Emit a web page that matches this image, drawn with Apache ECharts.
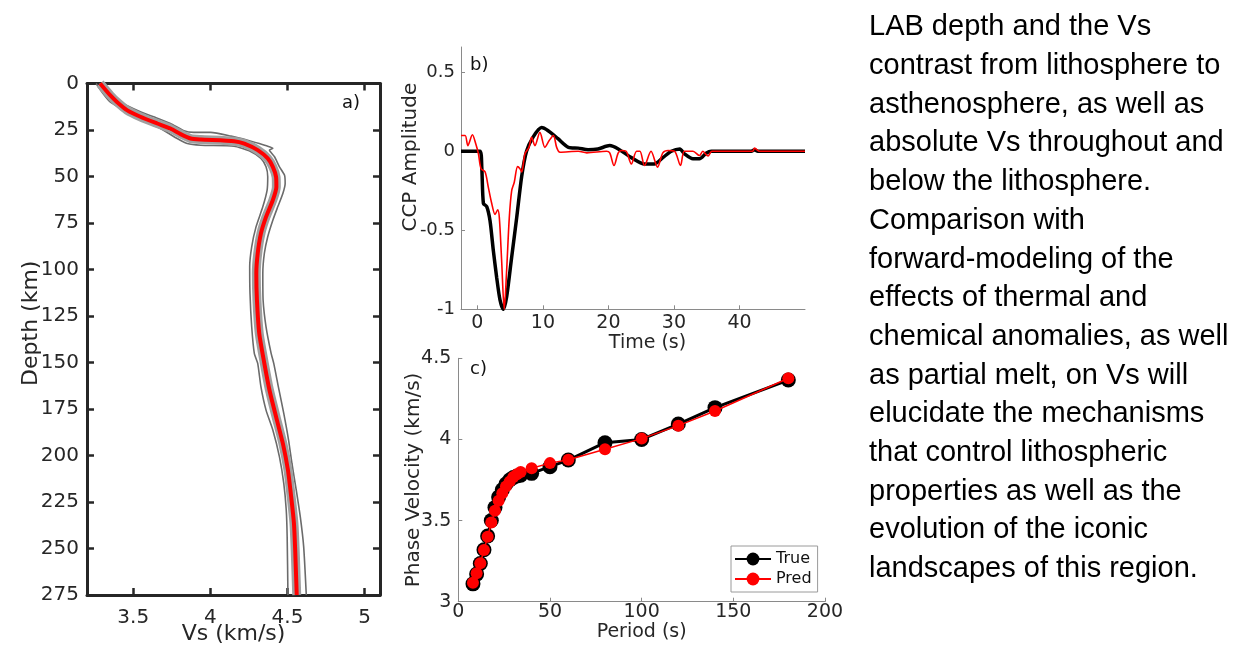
<!DOCTYPE html>
<html><head><meta charset="utf-8">
<script src="https://cdn.jsdelivr.net/npm/echarts@6/dist/echarts.min.js"></script>
<style>html,body{margin:0;padding:0;background:#fff;overflow:hidden}#c{width:1242px;height:646px}</style>
</head><body><div id="c"></div>
<script>
// ---------- Panel a: Vs profile ----------
const redDepth = [0, 6.3, 9.9, 14.3, 17.9, 21.5, 24.2, 27.2, 29.6, 30.1, 31.0, 32.3, 35.8, 40.3, 44.8, 50.2, 55.6, 62.7, 71.7, 80.6, 91.4, 102.1, 116.5, 134.4, 150.5, 164.8, 179.2, 193.5, 207.8, 222.2, 236.5, 250.8, 275];
const redVs    = [3.285, 3.350, 3.394, 3.459, 3.546, 3.655, 3.741, 3.807, 3.872, 3.937, 4.154, 4.220, 4.307, 4.372, 4.405, 4.426, 4.428, 4.405, 4.361, 4.328, 4.307, 4.298, 4.302, 4.317, 4.350, 4.383, 4.426, 4.470, 4.503, 4.524, 4.542, 4.550, 4.560];
const lowDepth = [0, 4.5, 9.9, 14.3, 19.4, 24.2, 29.6, 32.3, 33.2, 33.7, 36.2, 40.3, 44.8, 50.2, 57.3, 66.3, 77.1, 87.8, 98.6, 112.9, 130.8, 145.1, 150.5, 163.1, 175.6, 186.3, 200.7, 215, 229.3, 243.7, 275];
const lowVs    = [3.259, 3.296, 3.350, 3.437, 3.546, 3.676, 3.785, 3.850, 3.937, 4.154, 4.252, 4.328, 4.361, 4.372, 4.368, 4.340, 4.296, 4.268, 4.255, 4.257, 4.268, 4.285, 4.307, 4.328, 4.361, 4.405, 4.448, 4.476, 4.492, 4.498, 4.503];
const highDepth = [0, 4.5, 9.9, 15.2, 17.9, 21.5, 25.4, 26.3, 26.3, 28.3, 30.5, 32.3, 33.7, 34.8, 35.8, 39.4, 44.8, 49.3, 53.7, 59.1, 66.3, 73.5, 82.4, 91.4, 102.1, 116.5, 130.8, 145.1, 150.5, 163.1, 177.4, 191.7, 204.3, 218.6, 232.9, 249, 275];
const highVs    = [3.280, 3.328, 3.415, 3.546, 3.632, 3.741, 3.828, 3.893, 4.002, 4.133, 4.242, 4.317, 4.372, 4.405, 4.383, 4.416, 4.448, 4.481, 4.485, 4.470, 4.437, 4.405, 4.372, 4.350, 4.340, 4.342, 4.361, 4.394, 4.411, 4.441, 4.476, 4.507, 4.529, 4.557, 4.583, 4.605, 4.622];
const vsTicks = [3.5, 4, 4.5, 5];

// ---------- Panel b: CCP waveforms ----------
const trueTime = [-2.5, 0.4, 0.67, 0.92, 1.43, 1.93, 2.44, 2.95, 3.45, 3.96, 4.47, 5.23, 6.0, 6.76, 7.5, 8.5, 9.8, 10.8, 12.3, 13.9, 15.4, 16.9, 18.4, 20.2, 21.5, 23.5, 25.5, 27.0, 28.3, 29.6, 30.9, 31.6, 32.9, 33.9, 34.9, 35.7, 41.8, 42.3, 42.8, 50];
const trueAmp  = [0, 0, -0.10, -0.33, -0.35, -0.44, -0.63, -0.80, -0.94, -1.0, -0.92, -0.67, -0.42, -0.16, 0.0, 0.09, 0.15, 0.13, 0.08, 0.025, 0.02, 0.01, 0.015, 0.036, 0.015, -0.04, -0.08, -0.08, -0.04, 0.0, 0.015, -0.016, -0.048, -0.048, -0.013, 0, 0, 0.01, 0, 0];
const predTime = [-2.5, -1.87, -1.46, -0.76, -0.25, 0.16, 0.56, 1.17, 1.68, 2.19, 2.7, 3.1, 3.35, 3.7, 4.1, 4.47, 4.87, 5.23, 5.63, 6.14, 6.5, 6.76, 7.26, 7.87, 8.28, 8.78, 9.54, 10.3, 10.96, 11.6, 12.1, 12.6, 15.4, 16.7, 19.7, 20.2, 20.85, 21.5, 22.0, 22.7, 23.5, 24.3, 24.8, 25.5, 26.5, 27.5, 28.3, 29.1, 30.1, 31.0, 31.6, 32.9, 33.9, 34.4, 35.2, 35.8, 42, 42.3, 43.1, 50];
const predAmp  = [0.10, 0.10, 0.036, 0.105, 0.047, -0.016, -0.11, -0.13, -0.23, -0.33, -0.40, -0.37, -0.42, -0.69, -1.0, -0.75, -0.42, -0.25, -0.196, -0.097, -0.11, -0.13, -0.016, 0.025, 0.088, 0.036, 0.12, 0.025, 0.068, 0.10, 0.025, -0.006, 0, -0.01, 0, -0.01, -0.09, -0.01, 0.005, 0, -0.08, 0, 0, -0.09, 0, -0.10, -0.01, 0.005, 0, -0.09, 0, 0, -0.027, 0, -0.03, 0, 0, 0.02, 0, 0];
const timeTicks = [0, 10, 20, 30, 40];
const ampTicks = [-1, -0.5, 0, 0.5];

// ---------- Panel c: dispersion ----------
const periods  = [8, 10, 12, 14, 16, 18, 20, 22, 24, 26, 28, 30, 32, 34, 40, 50, 60, 80, 100, 120, 140, 180];
const trueVel  = [3.11, 3.17, 3.235, 3.32, 3.405, 3.50, 3.58, 3.645, 3.69, 3.725, 3.75, 3.765, 3.775, 3.78, 3.791, 3.832, 3.873, 3.98, 4.0, 4.095, 4.196, 4.366];
const predVel  = [3.117, 3.175, 3.237, 3.319, 3.40, 3.488, 3.56, 3.622, 3.669, 3.71, 3.74, 3.768, 3.786, 3.799, 3.823, 3.854, 3.875, 3.939, 4.005, 4.085, 4.175, 4.377];

// ---------- Side text ----------
const textLines = [
  'LAB depth and the Vs',
  'contrast from lithosphere to',
  'asthenosphere, as well as',
  'absolute Vs throughout and',
  'below the lithosphere.',
  'Comparison with',
  'forward-modeling of the',
  'effects of thermal and',
  'chemical anomalies, as well',
  'as partial melt, on Vs will',
  'elucidate the mechanisms',
  'that control lithospheric',
  'properties as well as the',
  'evolution of the iconic',
  'landscapes of this region.'
];

const zip = (a, b) => a.map((v, i) => [v, b[i]]);
const FF = 'DejaVu Sans';
const dark = '#262626';
const grayAx = '#8a8a8a';

const chart = echarts.init(document.getElementById('c'), null, {renderer: 'canvas'});
const thickA = {show: true, onZero: false, lineStyle: {color: dark, width: 3}};
const tickA = {show: true, inside: true, length: 7, lineStyle: {color: dark, width: 2.5}};
const thinAxis = {show: true, onZero: false, lineStyle: {color: grayAx, width: 1}};
const thinTick = {show: true, inside: true, length: 4, lineStyle: {color: grayAx, width: 1}};
const lbl = (extra) => Object.assign({color: dark, fontFamily: FF, fontSize: 19}, extra || {});

chart.setOption({
  animation: false,
  backgroundColor: '#fff',
  grid: [
    {left: 87, top: 83.5, width: 293, height: 511.5, outerBoundsMode: 'none', containLabel: false},
    {left: 461, top: 47, width: 344, height: 262.3, outerBoundsMode: 'none', containLabel: false},
    {left: 458.3, top: 358.3, width: 366.7, height: 243.4, outerBoundsMode: 'none', containLabel: false}
  ],
  xAxis: [
    {gridIndex: 0, type: 'value', position: 'bottom', min: 3.2, max: 5.1,
     axisLine: thickA, axisTick: Object.assign({customValues: vsTicks}, tickA),
     axisLabel: lbl({customValues: vsTicks, margin: 13, fontSize: 20}), splitLine: {show: false},
     name: 'Vs (km/s)', nameLocation: 'middle', nameGap: 28, nameMoveOverlap: false,
     nameTextStyle: {color: dark, fontFamily: FF, fontSize: 22}},
    {gridIndex: 0, type: 'value', position: 'top', min: 3.2, max: 5.1,
     axisLine: thickA, axisTick: Object.assign({customValues: vsTicks}, tickA),
     axisLabel: {show: false}, splitLine: {show: false}},
    {gridIndex: 1, type: 'value', min: -2.5, max: 50,
     axisLine: thinAxis, axisTick: Object.assign({customValues: timeTicks}, thinTick),
     axisLabel: lbl({customValues: timeTicks, margin: 4}), splitLine: {show: false},
     name: 'Time (s)', nameLocation: 'middle', nameGap: 24, nameMoveOverlap: false,
     nameTextStyle: {color: dark, fontFamily: FF, fontSize: 19, padding: [0, 0, 0, 29]}},
    {gridIndex: 2, type: 'value', min: 0, max: 200, interval: 50,
     axisLine: thinAxis, axisTick: thinTick,
     axisLabel: lbl({margin: 1}), splitLine: {show: false},
     name: 'Period (s)', nameLocation: 'middle', nameGap: 21, nameMoveOverlap: false,
     nameTextStyle: {color: dark, fontFamily: FF, fontSize: 19}}
  ],
  yAxis: [
    {gridIndex: 0, type: 'value', position: 'left', inverse: true, min: 0, max: 275, interval: 25,
     axisLine: thickA, axisTick: tickA, axisLabel: lbl({margin: 8, fontSize: 20}), splitLine: {show: false},
     name: 'Depth (km)', nameLocation: 'middle', nameGap: 45, nameMoveOverlap: false,
     nameTextStyle: {color: dark, fontFamily: FF, fontSize: 22, padding: [0, 0, 0, 32]}},
    {gridIndex: 0, type: 'value', position: 'right', inverse: true, min: 0, max: 275, interval: 25,
     axisLine: thickA, axisTick: tickA, axisLabel: {show: false}, splitLine: {show: false}},
    {gridIndex: 1, type: 'value', min: -1, max: 0.66,
     axisLine: thinAxis, axisTick: Object.assign({customValues: ampTicks}, thinTick),
     axisLabel: lbl({customValues: ampTicks, margin: 6, fontSize: 18}), splitLine: {show: false},
     name: 'CCP Amplitude', nameLocation: 'middle', nameGap: 40, nameMoveOverlap: false,
     nameTextStyle: {color: dark, fontFamily: FF, fontSize: 20, padding: [0, 0, 0, 42]}},
    {gridIndex: 2, type: 'value', min: 3, max: 4.5, interval: 0.5,
     axisLine: thinAxis, axisTick: thinTick,
     axisLabel: lbl({margin: 7}), splitLine: {show: false},
     name: 'Phase Velocity (km/s)', nameLocation: 'middle', nameGap: 35, nameMoveOverlap: false,
     nameTextStyle: {color: dark, fontFamily: FF, fontSize: 20}}
  ],
  legend: {
    data: ['True', 'Pred'], orient: 'vertical', left: 731, top: 546,
    itemWidth: 36, itemHeight: 16, itemGap: 4, padding: [5, 6, 5, 3],
    borderColor: '#9a9a9a', borderWidth: 1, backgroundColor: '#fff',
    textStyle: {fontFamily: FF, fontSize: 16, color: '#111'}
  },
  series: [
    {name: 'low', type: 'line', xAxisIndex: 0, yAxisIndex: 0, data: zip(lowVs, lowDepth),
     showSymbol: false, smooth: 0.2, lineStyle: {color: '#6b6b6b', width: 1.6}, silent: true, z: 2},
    {name: 'high', type: 'line', xAxisIndex: 0, yAxisIndex: 0, data: zip(highVs, highDepth),
     showSymbol: false, smooth: 0.2, lineStyle: {color: '#6b6b6b', width: 1.6}, silent: true, z: 2},
    {name: 'band', type: 'line', xAxisIndex: 0, yAxisIndex: 0, data: zip(redVs, redDepth),
     showSymbol: false, smooth: 0.2, lineStyle: {color: '#a0a0a0', width: 9}, silent: true, z: 3},
    {name: 'mean', type: 'line', xAxisIndex: 0, yAxisIndex: 0, data: zip(redVs, redDepth),
     showSymbol: false, smooth: 0.2, lineStyle: {color: '#ff0000', width: 4}, silent: true, z: 4},

    {name: 'ccpTrue', type: 'line', xAxisIndex: 2, yAxisIndex: 2, data: zip(trueTime, trueAmp),
     showSymbol: false, smooth: 0.25, lineStyle: {color: '#000', width: 3.5}, z: 3},
    {name: 'ccpPred', type: 'line', xAxisIndex: 2, yAxisIndex: 2, data: zip(predTime, predAmp),
     showSymbol: false, smooth: 0.3, lineStyle: {color: '#ff0000', width: 1.6}, z: 4},

    {name: 'True', type: 'line', xAxisIndex: 3, yAxisIndex: 3, data: zip(periods, trueVel),
     symbol: 'circle', symbolSize: 15, lineStyle: {color: '#000', width: 3},
     itemStyle: {color: '#000'}, z: 3},
    {name: 'Pred', type: 'line', xAxisIndex: 3, yAxisIndex: 3, data: zip(periods, predVel),
     symbol: 'circle', symbolSize: 12, lineStyle: {color: '#ff0000', width: 1.5},
     itemStyle: {color: '#ff0000'}, z: 4}
  ],
  graphic: [
    {type: 'text', left: 342, top: 94, style: {text: 'a)', fontFamily: FF, fontSize: 18, fill: '#111'}},
    {type: 'text', left: 470, top: 56, style: {text: 'b)', fontFamily: FF, fontSize: 18, fill: '#111'}},
    {type: 'text', left: 470, top: 360, style: {text: 'c)', fontFamily: FF, fontSize: 18, fill: '#111'}},
    {type: 'text', left: 869, top: 8, style: {text: textLines.join('\n'), fontFamily: 'Liberation Sans', fontSize: 29, lineHeight: 38.7, fill: '#000'}}
  ]
});
</script></body></html>
